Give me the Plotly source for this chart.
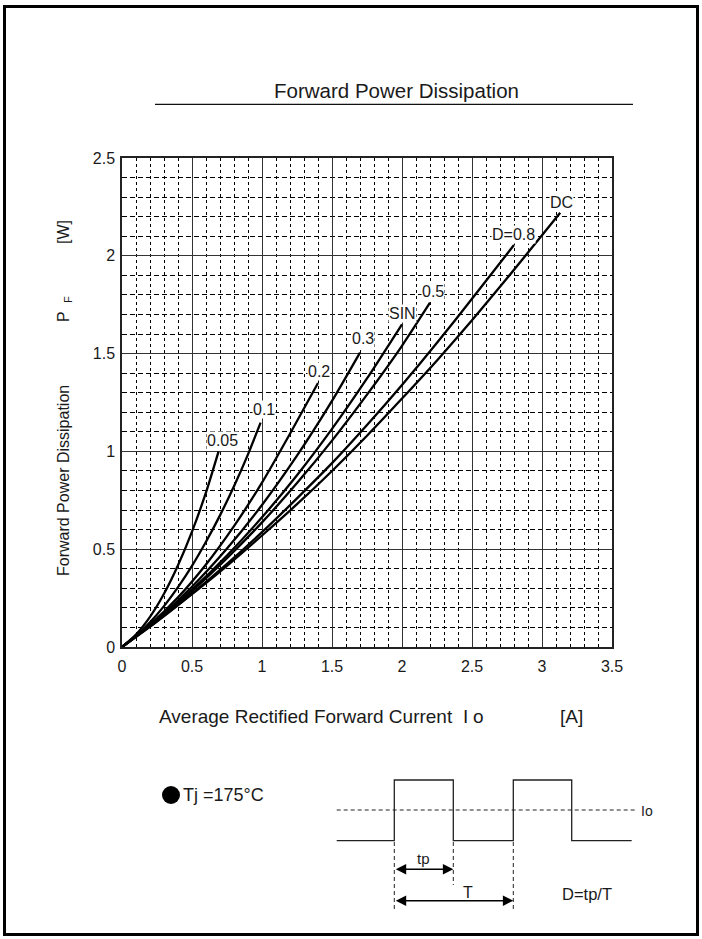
import plotly.graph_objects as go

# ---------------- data ----------------
x_tick_vals = [0, 0.5, 1, 1.5, 2, 2.5, 3, 3.5]
x_tick_text = ["0", "0.5", "1", "1.5", "2", "2.5", "3", "3.5"]
y_tick_vals = [0, 0.5, 1, 1.5, 2, 2.5]
y_tick_text = ["0", "0.5", "1", "1.5", "2", "2.5"]

d005_x = [0, 0.1, 0.2, 0.3, 0.4, 0.5, 0.6, 0.69]
d005_y = [0, 0.064, 0.154, 0.272, 0.418, 0.59, 0.79, 1.0]
d01_x = [0, 0.1, 0.2, 0.3, 0.4, 0.5, 0.6, 0.7, 0.8, 0.9, 0.99]
d01_y = [0, 0.057, 0.126, 0.209, 0.306, 0.415, 0.538, 0.673, 0.822, 0.985, 1.147]
d02_x = [0, 0.2, 0.4, 0.6, 0.8, 1.0, 1.2, 1.4]
d02_y = [0, 0.114, 0.254, 0.422, 0.618, 0.84, 1.09, 1.35]
d03_x = [0, 0.25, 0.5, 0.75, 1.0, 1.25, 1.5, 1.7]
d03_y = [0, 0.141, 0.308, 0.503, 0.726, 0.978, 1.258, 1.505]
sin_x = [0, 0.25, 0.5, 0.75, 1.0, 1.25, 1.5, 1.75, 2.0]
sin_y = [0, 0.138, 0.293, 0.468, 0.663, 0.878, 1.115, 1.373, 1.65]
d05_x = [0, 0.25, 0.5, 0.75, 1.0, 1.25, 1.5, 1.75, 2.0, 2.2]
d05_y = [0, 0.136, 0.286, 0.454, 0.637, 0.838, 1.055, 1.29, 1.54, 1.76]
d08_x = [0, 0.25, 0.5, 0.75, 1.0, 1.25, 1.5, 1.75, 2.0, 2.25, 2.5, 2.8]
d08_y = [0, 0.132, 0.273, 0.425, 0.587, 0.76, 0.94, 1.135, 1.34, 1.555, 1.78, 2.055]
dc_x = [0, 0.25, 0.5, 0.75, 1.0, 1.25, 1.5, 1.75, 2.0, 2.25, 2.5, 2.75, 3.0, 3.13]
dc_y = [0, 0.13, 0.27, 0.415, 0.57, 0.73, 0.90, 1.08, 1.27, 1.465, 1.67, 1.885, 2.105, 2.22]

series = [
    (d005_x, d005_y), (d01_x, d01_y), (d02_x, d02_y), (d03_x, d03_y),
    (sin_x, sin_y), (d05_x, d05_y), (d08_x, d08_y), (dc_x, dc_y),
]

curve_labels = ["0.05", "0.1", "0.2", "0.3", "SIN", "0.5", "D=0.8", "DC"]
label_x = [0.718, 1.012, 1.407, 1.724, 2.001, 2.218, 2.799, 3.14]
label_y = [1.054, 1.216, 1.411, 1.578, 1.706, 1.816, 2.11, 2.272]

# ---------------- layout geometry ----------------
W, H = 702, 939
L, R, T, B = 122, 90, 158, 292
PW, PH = W - L - R, H - T - B


def px(x):
    return (x - L) / PW


def py(y):
    return (H - B - y) / PH


FONT = "Liberation Sans, Arial, sans-serif"
INK = "#1a1a1a"

fig = go.Figure()
for sx, sy in series:
    fig.add_trace(go.Scatter(x=sx, y=sy, mode="lines", line=dict(color="black", width=2.3, shape="spline", smoothing=0.6),
                             hoverinfo="skip", showlegend=False))

annotations = []
for t, lx, ly in zip(curve_labels, label_x, label_y):
    annotations.append(dict(x=lx, y=ly, xref="x", yref="y", text=t, showarrow=False,
                            font=dict(family=FONT, size=16, color=INK), bgcolor="white", borderpad=0))


def txt(x, y, text, size=16, angle=0, xanchor="center", yanchor="middle"):
    annotations.append(dict(x=px(x), y=py(y), xref="paper", yref="paper", text=text, showarrow=False,
                            textangle=angle, xanchor=xanchor, yanchor=yanchor,
                            font=dict(family=FONT, size=size, color=INK)))


# title
txt(396, 90, "Forward Power Dissipation", size=20.5)
# y axis title pieces
txt(63, 481, "Forward Power Dissipation", size=16, angle=-90)
txt(63, 317, "P", size=16, angle=-90)
txt(68, 300, "F", size=11, angle=-90)
txt(63, 232, "[W]", size=16, angle=-90)
# x axis title pieces
txt(306, 716, "Average Rectified Forward Current", size=19)
txt(465, 716, "I", size=19)
txt(478, 716, "o", size=19)
txt(571, 716, "[A]", size=19)
# bottom legend / diagram text
txt(181, 795, "Tj =175°C", size=18, xanchor="left")
txt(639, 811, "Io", size=14, xanchor="left")
txt(423, 859, "tp", size=15)
txt(468, 892, "T", size=16)
txt(587, 894, "D=tp/T", size=16.5)


def arrow(x0, x1, y):
    annotations.append(dict(x=px(x1), y=py(y), xref="paper", yref="paper", ax=-(x1 - x0), ay=0,
                            axref="pixel", ayref="pixel", text="", showarrow=True,
                            arrowhead=2, startarrowhead=2, arrowside="end+start", arrowsize=1.3,
                            startarrowsize=1.3, arrowwidth=1.6, arrowcolor="black", standoff=0, startstandoff=0))


arrow(394.3, 453.3, 869.3)
arrow(394.3, 513.3, 900.7)

shapes = []


def seg(x0, y0, x1, y1, width=1.2, dash="solid", color="#222"):
    shapes.append(dict(type="line", xref="paper", yref="paper", x0=px(x0), y0=py(y0), x1=px(x1), y1=py(y1),
                       line=dict(color=color, width=width, dash=dash)))


# page border
shapes.append(dict(type="rect", xref="paper", yref="paper", x0=px(4.5), y0=py(6.5), x1=px(697.5), y1=py(934.5),
                   line=dict(color="black", width=3)))
# bullet before Tj text
shapes.append(dict(type="circle", xref="paper", yref="paper", x0=px(162), y0=py(804), x1=px(180), y1=py(786),
                   fillcolor="black", line=dict(color="black", width=0)))
# title underline
seg(155, 104.3, 633, 104.3, width=1.2, color="#111")
# waveform
wave = [(336.7, 840.7), (394.3, 840.7), (394.3, 780), (453.3, 780), (453.3, 840.7), (513.3, 840.7),
        (513.3, 780), (571.7, 780), (571.7, 840.7), (631.7, 840.7)]
path = "M " + " L ".join(f"{px(a):.5f},{py(b):.5f}" for a, b in wave)
shapes.append(dict(type="path", xref="paper", yref="paper", path=path, line=dict(color="#222", width=1.3)))
seg(336.7, 810, 636, 810, width=1, dash="4px,3px")
seg(394.3, 842, 394.3, 909.3, width=1, dash="4px,3px")
seg(453.3, 842, 453.3, 885, width=1, dash="4px,3px")
seg(513.3, 842, 513.3, 909.3, width=1, dash="4px,3px")

fig.update_layout(
    width=W, height=H,
    margin=dict(l=L, r=R, t=T, b=B, autoexpand=False),
    paper_bgcolor="white", plot_bgcolor="white",
    showlegend=False,
    annotations=annotations,
    shapes=shapes,
    font=dict(family=FONT, color=INK),
)
fig.update_xaxes(range=[0, 3.5], tickmode="array", tickvals=x_tick_vals, ticktext=x_tick_text,
                 showgrid=True, gridcolor="#333", gridwidth=1, zeroline=False,
                 showline=True, linecolor="#222", linewidth=1.5, mirror=True, ticks="",
                 tickfont=dict(family=FONT, size=16, color=INK), ticklabelstandoff=4,
                 minor=dict(tickmode="linear", tick0=0, dtick=0.1, showgrid=True, gridcolor="#000",
                            gridwidth=1, griddash="3px,3px", ticks=""))
fig.update_yaxes(range=[0, 2.5], tickmode="array", tickvals=y_tick_vals, ticktext=y_tick_text,
                 showgrid=True, gridcolor="#333", gridwidth=1, zeroline=False,
                 showline=True, linecolor="#222", linewidth=1.5, mirror=True, ticks="",
                 tickfont=dict(family=FONT, size=16, color=INK), ticklabelstandoff=2,
                 minor=dict(tickmode="linear", tick0=0, dtick=0.1, showgrid=True, gridcolor="#000",
                            gridwidth=1, griddash="5px,3px", ticks=""))

fig.write_html("out.html", config={"displayModeBar": False},
               post_script="document.body.style.margin='0';document.body.style.overflow='hidden';")
